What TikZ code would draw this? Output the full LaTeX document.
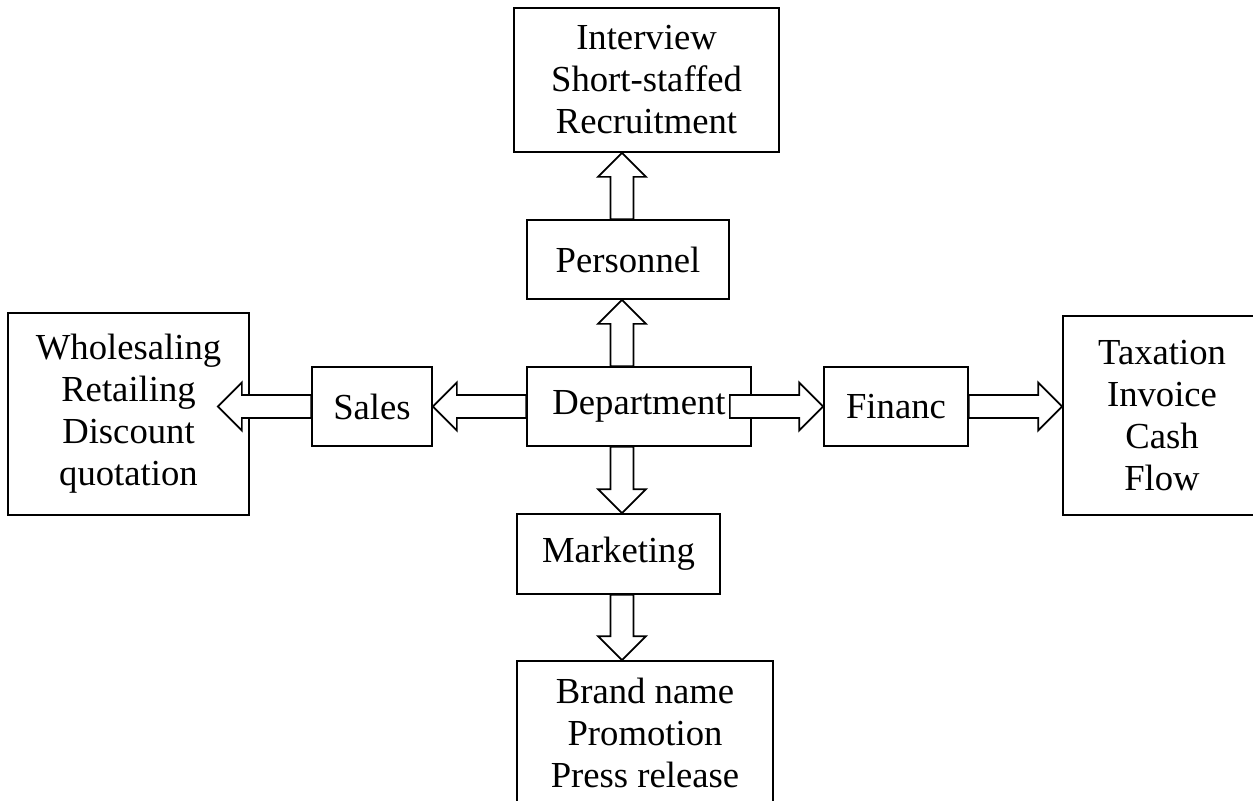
\documentclass[tikz,border=0pt]{standalone}
\usepackage{fontspec}
\setmainfont{Liberation Serif}
\usepackage{tikz}
\usetikzlibrary{positioning, calc}

% hollow block arrow from #1 to #2
\newcommand{\hollowarrow}[2]{%
  \coordinate (ha) at (#1);
  \coordinate (hz) at (#2);
  \coordinate (hb) at ($(hz)!18pt!(ha)$);
  \draw[hollow] ($(ha)!8.6pt!90:(hz)$) -- ($(hb)!8.6pt!90:(hz)$) -- ($(hb)!18pt!90:(hz)$) -- (hz)
  -- ($(hb)!18pt!-90:(hz)$) -- ($(hb)!8.6pt!-90:(hz)$) -- ($(ha)!8.6pt!-90:(hz)$) -- cycle;
}

\begin{document}
\begin{tikzpicture}[x=0.75pt, y=-0.75pt]
  \tikzstyle{box}=[draw, line width=1.3pt, fill=white, inner sep=0pt, align=center,
  font=\fontsize{27.5pt}{31.5pt}\selectfont]
  \tikzstyle{hollow}=[draw, line width=1.3pt, fill=white, line join=miter]
  \clip (0, 0) rectangle (1253, 800);

  % boxes
  \node (dept) at (639, 406.5) [box, minimum width=168pt, minimum height=59.25pt] {Department};
  \node (personnel) at (628, 259.5) [box, minimum width=151.5pt, minimum height=59.25pt] {Personnel};
  \node (recruit) at (646.5, 80) [box, minimum width=198.75pt, minimum height=108pt]
  {Interview\\Short-staffed\\Recruitment};
  \node (sales) at (372, 406.5) [box, minimum width=90pt, minimum height=59.25pt] {Sales};
  \node (wholesale) at (128.5, 414) [box, minimum width=180.75pt, minimum height=151.5pt]
  {Wholesaling\\Retailing\\Discount\\quotation};
  \node (financ) at (896, 406.5) [box, minimum width=108pt, minimum height=59.25pt] {Financ};
  \node (taxation) at (1162, 415.5) [box, minimum width=148.5pt, minimum height=149.25pt]
  {Taxation\\Invoice\\Cash\\Flow};
  \node (marketing) at (618.5, 554) [box, minimum width=152.25pt, minimum height=60pt] {Marketing};
  \node (brand) at (645, 733) [box, minimum width=192pt, minimum height=108pt]
  {Brand name\\Promotion\\Press release};

  % arrows
  \coordinate (axis) at (622, 406.5);
  \hollowarrow{dept.north -| axis}{personnel.south -| axis}
  \hollowarrow{personnel.north -| axis}{recruit.south -| axis}
  \hollowarrow{dept.south -| axis}{marketing.north -| axis}
  \hollowarrow{marketing.south -| axis}{brand.north -| axis}
  \hollowarrow{dept.west}{sales.east}
  \hollowarrow{sales.west}{$(wholesale.east |- sales.west)+(-32, 0)$}
  \hollowarrow{$(dept.east)+(-22, 0)$}{financ.west}
  \hollowarrow{financ.east}{taxation.west |- financ.east}
\end{tikzpicture}
\end{document}
